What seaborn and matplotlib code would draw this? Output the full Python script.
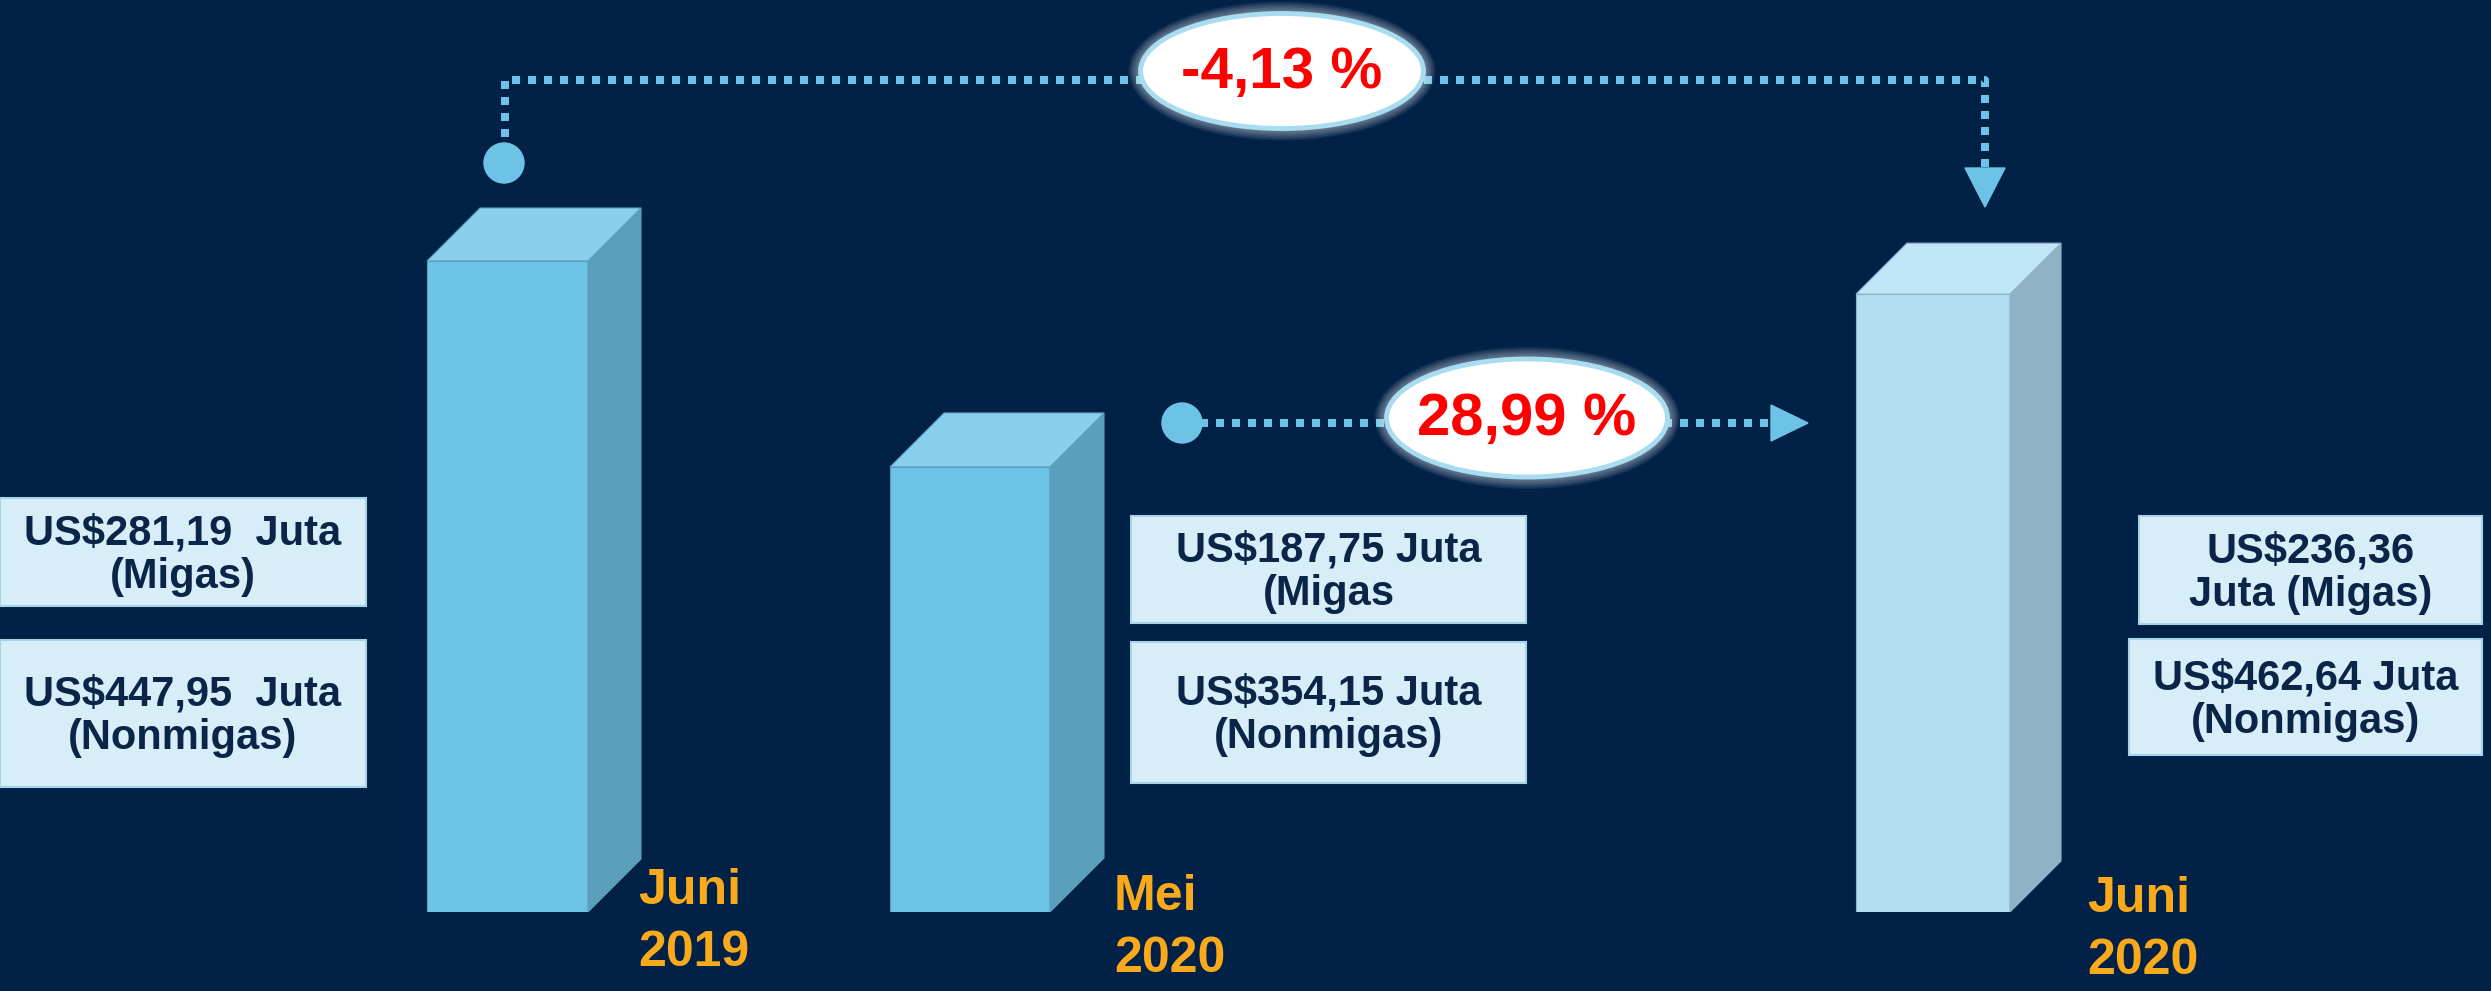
import matplotlib
matplotlib.use("Agg")
import numpy as np
import pandas as pd
import matplotlib.pyplot as plt
import seaborn as sns
from matplotlib.patches import Polygon, Ellipse, Rectangle

# ---- data ----
periods = ["Juni 2019", "Mei 2020", "Juni 2020"]
period_labels = ["Juni\n2019", "Mei\n2020", "Juni\n2020"]
migas = [281.19, 187.75, 236.36]
nonmigas = [447.95, 354.15, 462.64]
migas_text = ["US$281,19  Juta\n(Migas)", "US$187,75 Juta\n(Migas", "US$236,36\nJuta (Migas)"]
nonmigas_text = ["US$447,95  Juta\n(Nonmigas)", "US$354,15 Juta\n(Nonmigas)", "US$462,64 Juta\n(Nonmigas)"]
change_text = ["-4,13 %", "28,99 %"]

# ---- layout (pixels) ----
W, H = 2491, 991
bar_x = [507.5, 970, 1933]
bar_w = [161, 160, 154]
depth = [53, 54, 51]
base_px = 912
px_per_unit = 1.1
y_lo = 137.3
label_x = [638, 1114, 2087]
label_top = [868, 874, 876]
migas_box = [(0, 498, 366, 606), (1131, 516, 1526, 623), (2139, 516, 2482, 624)]
nonmigas_box = [(0, 640, 366, 787), (1131, 642, 1526, 783), (2129, 639, 2482, 755)]
ell_center = [(1282, 71), (1527, 418)]
ell_size = [(283, 115), (281, 118)]

# ---- style ----
bg = "#022146"
front_cols = ["#6dc3e6", "#6dc3e6", "#afdef1"]
side_cols = ["#5a9fbc", "#5a9fbc", "#8fb3c5"]
top_cols = ["#8acfed", "#8acfed", "#c0e5f6"]
line_col = "#6dc3e6"
box_fill = "#d7eef9"
box_edge = "#a7d3e8"
box_text = "#0b2548"
orange = "#f9a91c"
regular = ["Liberation Sans", "DejaVu Sans"]

sns.set_style("white")

df = pd.DataFrame({
    "period": periods,
    "xpos": bar_x,
    "total": np.add(migas, nonmigas),
})

fig = plt.figure(figsize=(W / 100, H / 100), dpi=100, facecolor=bg)
ax = fig.add_axes([0, (H - base_px) / H, 1, base_px / H])
ax.set_facecolor(bg)
y_hi = y_lo + base_px / px_per_unit

sns.barplot(data=df, x="xpos", y="total", hue="period", native_scale=True,
            palette=dict(zip(periods, front_cols)), dodge=False, legend=False,
            saturation=1, width=0.3, ax=ax)
ax.set_xlim(0, W)
ax.set_ylim(y_lo, y_hi)
ax.axis("off")

# 3D look: side and top faces built from each seaborn bar
bars = sorted(ax.patches, key=lambda p: p.get_x())
for i, p in enumerate(bars):
    p.set_x(bar_x[i] - bar_w[i] / 2)
    p.set_width(bar_w[i])
    p.set_edgecolor(side_cols[i])
    p.set_linewidth(0.8)
    x0, x1 = p.get_x(), p.get_x() + p.get_width()
    top = p.get_height()
    dx, dy = depth[i], depth[i] / px_per_unit
    side = Polygon([(x1, y_lo), (x1, top), (x1 + dx, top + dy), (x1 + dx, y_lo + dy)],
                   closed=True, facecolor=side_cols[i], edgecolor=side_cols[i], lw=0.8)
    lid = Polygon([(x0, top), (x1, top), (x1 + dx, top + dy), (x0 + dx, top + dy)],
                  closed=True, facecolor=top_cols[i], edgecolor=side_cols[i], lw=0.8)
    ax.add_patch(side)
    ax.add_patch(lid)

# overlay in pixel units for annotations
ov = fig.add_axes([0, 0, 1, 1])
ov.set_xlim(0, W)
ov.set_ylim(H, 0)
ov.patch.set_visible(False)
ov.axis("off")

lw = 8 * 72 / 100
dots = dict(color=line_col, lw=lw, linestyle=(0, (1, 1)), dash_capstyle="butt", zorder=1)

# top connector: Juni 2019 -> Juni 2020
ov.plot([505, 505, 1985, 1985], [137, 80, 80, 168], **dots)
ov.add_patch(Ellipse((504, 163), 40, 40, color=line_col, zorder=2))
ov.add_patch(Polygon([(1965, 168), (2005, 168), (1985, 207)], color=line_col, zorder=2))

# middle connector: Mei 2020 -> Juni 2020
ov.plot([1200, 1772], [423, 423], **dots)
ov.add_patch(Ellipse((1182, 423), 40, 40, color=line_col, zorder=2))
ov.add_patch(Polygon([(1771, 405), (1771, 441), (1808, 423)], color=line_col, zorder=2))

# percent ellipses with glow
sizes_pct = [42, 43]
for (cx, cy), (ew, eh), txt, fs in zip(ell_center, ell_size, change_text, sizes_pct):
    for k in range(8, 0, -1):
        ov.add_patch(Ellipse((cx, cy), ew + 3 * k, eh + 3 * k, facecolor="white",
                             edgecolor="none", alpha=0.07, zorder=3))
    ov.add_patch(Ellipse((cx, cy), ew, eh, facecolor="white", edgecolor="#a8dcf0",
                         lw=3.5, zorder=4))
    ov.text(cx, cy + 2, txt, ha="center", va="center", fontsize=fs, fontweight="bold",
            color="#ff0000", family=regular, zorder=5)

# value boxes
for boxes, texts in [(migas_box, migas_text), (nonmigas_box, nonmigas_text)]:
    for (x0, y0, x1, y1), txt in zip(boxes, texts):
        ov.add_patch(Rectangle((x0, y0), x1 - x0, y1 - y0, facecolor=box_fill,
                               edgecolor=box_edge, lw=1.5))
        ov.text((x0 + x1) / 2, (y0 + y1) / 2 + 3, txt, ha="center", va="center",
                fontsize=30, fontweight="bold", color=box_text, linespacing=1.1,
                family=regular)

# period labels
for lx, ly, txt in zip(label_x, label_top, period_labels):
    ov.text(lx, ly, txt, ha="left", va="top", fontsize=36, fontweight="bold",
            color=orange, linespacing=1.45, family=regular)

fig.savefig("out.png", dpi=100, facecolor=bg)
